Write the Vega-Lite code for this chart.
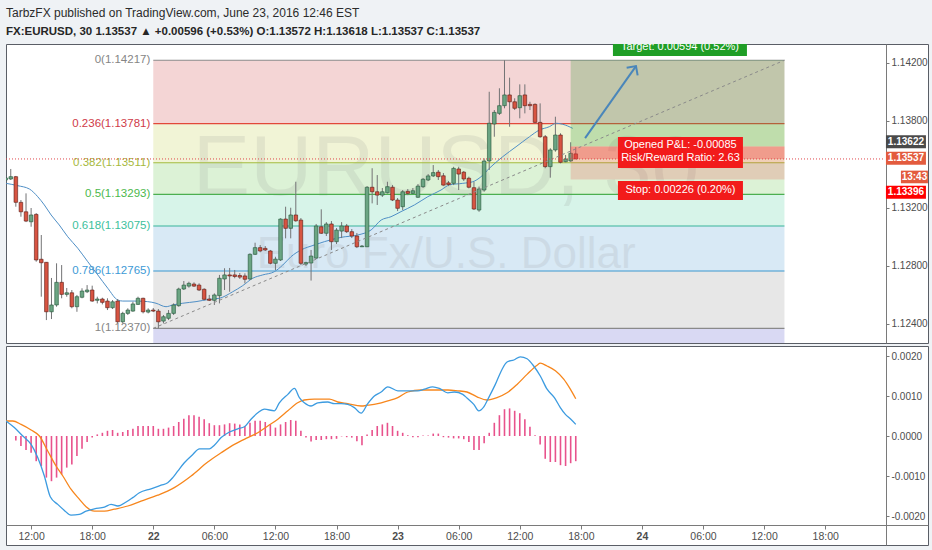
{
"$schema": "https://vega.github.io/schema/vega-lite/v6.json",
"background": "#eff2f5",
"padding": {"left": 5, "right": 5, "top": 6, "bottom": 7},
"title": {"text": "TarbzFX published on TradingView.com, June 23, 2016 12:46 EST", "subtitle": "FX:EURUSD, 30  1.13537 ▲ +0.00596 (+0.53%)  O:1.13572  H:1.13618  L:1.13537  C:1.13537", "anchor": "start", "frame": "group", "font": "Liberation Sans, Arial, sans-serif", "fontSize": 12, "fontWeight": "normal", "color": "#2b2b2b", "subtitleFont": "Liberation Sans, Arial, sans-serif", "subtitleFontSize": 11.5, "subtitleFontWeight": "bold", "subtitleColor": "#262626", "subtitlePadding": 6, "offset": 5.5},
"config": {"view": {"fill": "#ffffff", "stroke": "#5a5e66", "strokeWidth": 1}, "concat": {"spacing": 1}, "axis": {"grid": false, "title": null}, "scale": {"continuousPadding": 0}},
"datasets": {
"candles": [
{"t":"2016-06-21T09:30","o":1.13392,"h":1.13420,"l":1.13323,"c":1.13406},
{"t":"2016-06-21T10:00","o":1.13399,"h":1.13468,"l":1.13392,"c":1.13415},
{"t":"2016-06-21T10:30","o":1.13415,"h":1.13420,"l":1.13208,"c":1.13238},
{"t":"2016-06-21T11:00","o":1.13238,"h":1.13254,"l":1.13139,"c":1.13173},
{"t":"2016-06-21T11:30","o":1.13173,"h":1.13300,"l":1.13102,"c":1.13109},
{"t":"2016-06-21T12:00","o":1.13104,"h":1.13199,"l":1.13070,"c":1.13151},
{"t":"2016-06-21T12:30","o":1.13155,"h":1.13164,"l":1.12829,"c":1.12841},
{"t":"2016-06-21T13:00","o":1.12846,"h":1.13013,"l":1.12588,"c":1.12822},
{"t":"2016-06-21T13:30","o":1.12825,"h":1.12827,"l":1.12427,"c":1.12484},
{"t":"2016-06-21T14:00","o":1.12484,"h":1.12717,"l":1.12434,"c":1.12531},
{"t":"2016-06-21T14:30","o":1.12531,"h":1.12818,"l":1.12519,"c":1.12687},
{"t":"2016-06-21T15:00","o":1.12687,"h":1.12806,"l":1.12577,"c":1.12604},
{"t":"2016-06-21T15:30","o":1.12604,"h":1.12648,"l":1.12588,"c":1.12615},
{"t":"2016-06-21T16:00","o":1.12615,"h":1.12634,"l":1.12508,"c":1.12519},
{"t":"2016-06-21T16:30","o":1.12519,"h":1.12600,"l":1.12484,"c":1.12588},
{"t":"2016-06-21T17:00","o":1.12584,"h":1.12646,"l":1.12577,"c":1.12627},
{"t":"2016-06-21T17:30","o":1.12622,"h":1.12668,"l":1.12613,"c":1.12634},
{"t":"2016-06-21T18:00","o":1.12634,"h":1.12664,"l":1.12553,"c":1.12558},
{"t":"2016-06-21T18:30","o":1.12563,"h":1.12588,"l":1.12542,"c":1.12572},
{"t":"2016-06-21T19:00","o":1.12572,"h":1.12581,"l":1.12535,"c":1.12549},
{"t":"2016-06-21T19:30","o":1.12558,"h":1.12577,"l":1.12496,"c":1.12512},
{"t":"2016-06-21T20:00","o":1.12512,"h":1.12565,"l":1.12503,"c":1.12553},
{"t":"2016-06-21T20:30","o":1.12558,"h":1.12572,"l":1.12406,"c":1.12415},
{"t":"2016-06-21T21:00","o":1.12415,"h":1.12484,"l":1.12404,"c":1.12473},
{"t":"2016-06-21T21:30","o":1.12473,"h":1.12508,"l":1.12462,"c":1.12496},
{"t":"2016-06-21T22:00","o":1.12489,"h":1.12553,"l":1.12484,"c":1.12538},
{"t":"2016-06-21T22:30","o":1.12535,"h":1.12588,"l":1.12531,"c":1.12577},
{"t":"2016-06-21T23:00","o":1.12577,"h":1.12581,"l":1.12473,"c":1.12484},
{"t":"2016-06-21T23:30","o":1.12482,"h":1.12508,"l":1.12473,"c":1.12496},
{"t":"2016-06-22T00:00","o":1.12496,"h":1.12510,"l":1.12482,"c":1.12489},
{"t":"2016-06-22T00:30","o":1.12489,"h":1.12503,"l":1.12370,"c":1.12415},
{"t":"2016-06-22T01:00","o":1.12420,"h":1.12462,"l":1.12404,"c":1.12450},
{"t":"2016-06-22T01:30","o":1.12439,"h":1.12496,"l":1.12427,"c":1.12473},
{"t":"2016-06-22T02:00","o":1.12473,"h":1.12542,"l":1.12462,"c":1.12531},
{"t":"2016-06-22T02:30","o":1.12526,"h":1.12650,"l":1.12519,"c":1.12641},
{"t":"2016-06-22T03:00","o":1.12641,"h":1.12696,"l":1.12634,"c":1.12668},
{"t":"2016-06-22T03:30","o":1.12661,"h":1.12691,"l":1.12650,"c":1.12680},
{"t":"2016-06-22T04:00","o":1.12675,"h":1.12687,"l":1.12655,"c":1.12661},
{"t":"2016-06-22T04:30","o":1.12668,"h":1.12680,"l":1.12627,"c":1.12634},
{"t":"2016-06-22T05:00","o":1.12639,"h":1.12646,"l":1.12563,"c":1.12570},
{"t":"2016-06-22T05:30","o":1.12572,"h":1.12600,"l":1.12558,"c":1.12563},
{"t":"2016-06-22T06:00","o":1.12563,"h":1.12611,"l":1.12531,"c":1.12600},
{"t":"2016-06-22T06:30","o":1.12595,"h":1.12738,"l":1.12542,"c":1.12715},
{"t":"2016-06-22T07:00","o":1.12710,"h":1.12784,"l":1.12634,"c":1.12738},
{"t":"2016-06-22T07:30","o":1.12738,"h":1.12786,"l":1.12622,"c":1.12731},
{"t":"2016-06-22T08:00","o":1.12738,"h":1.12772,"l":1.12715,"c":1.12727},
{"t":"2016-06-22T08:30","o":1.12734,"h":1.12751,"l":1.12710,"c":1.12723},
{"t":"2016-06-22T09:00","o":1.12731,"h":1.12749,"l":1.12680,"c":1.12708},
{"t":"2016-06-22T09:30","o":1.12710,"h":1.12887,"l":1.12703,"c":1.12880},
{"t":"2016-06-22T10:00","o":1.12880,"h":1.12960,"l":1.12875,"c":1.12926},
{"t":"2016-06-22T10:30","o":1.12926,"h":1.12944,"l":1.12894,"c":1.12903},
{"t":"2016-06-22T11:00","o":1.12921,"h":1.12937,"l":1.12903,"c":1.12910},
{"t":"2016-06-22T11:30","o":1.12903,"h":1.12910,"l":1.12811,"c":1.12818},
{"t":"2016-06-22T12:00","o":1.12818,"h":1.12863,"l":1.12772,"c":1.12847},
{"t":"2016-06-22T12:30","o":1.12841,"h":1.13128,"l":1.12834,"c":1.13123},
{"t":"2016-06-22T13:00","o":1.13123,"h":1.13208,"l":1.12990,"c":1.13059},
{"t":"2016-06-22T13:30","o":1.13059,"h":1.13201,"l":1.12990,"c":1.13151},
{"t":"2016-06-22T14:00","o":1.13151,"h":1.13380,"l":1.13104,"c":1.13111},
{"t":"2016-06-22T14:30","o":1.13116,"h":1.13130,"l":1.12806,"c":1.12818},
{"t":"2016-06-22T15:00","o":1.12813,"h":1.12829,"l":1.12799,"c":1.12823},
{"t":"2016-06-22T15:30","o":1.12820,"h":1.12910,"l":1.12699,"c":1.12868},
{"t":"2016-06-22T16:00","o":1.12854,"h":1.13089,"l":1.12848,"c":1.13075},
{"t":"2016-06-22T16:30","o":1.13070,"h":1.13190,"l":1.13020,"c":1.13025},
{"t":"2016-06-22T17:00","o":1.13025,"h":1.13102,"l":1.13006,"c":1.13089},
{"t":"2016-06-22T17:30","o":1.13089,"h":1.13109,"l":1.12910,"c":1.12967},
{"t":"2016-06-22T18:00","o":1.12967,"h":1.13061,"l":1.12951,"c":1.13047},
{"t":"2016-06-22T18:30","o":1.13040,"h":1.13102,"l":1.12992,"c":1.13075},
{"t":"2016-06-22T19:00","o":1.13075,"h":1.13089,"l":1.13027,"c":1.13036},
{"t":"2016-06-22T19:30","o":1.13036,"h":1.13054,"l":1.12992,"c":1.13006},
{"t":"2016-06-22T20:00","o":1.13006,"h":1.13027,"l":1.12923,"c":1.12932},
{"t":"2016-06-22T20:30","o":1.12932,"h":1.12944,"l":1.12930,"c":1.12937},
{"t":"2016-06-22T21:00","o":1.12932,"h":1.13350,"l":1.12930,"c":1.13342},
{"t":"2016-06-22T21:30","o":1.13342,"h":1.13473,"l":1.13231,"c":1.13311},
{"t":"2016-06-22T22:00","o":1.13311,"h":1.13426,"l":1.13220,"c":1.13288},
{"t":"2016-06-22T22:30","o":1.13288,"h":1.13337,"l":1.13275,"c":1.13311},
{"t":"2016-06-22T23:00","o":1.13304,"h":1.13380,"l":1.13299,"c":1.13346},
{"t":"2016-06-22T23:30","o":1.13342,"h":1.13357,"l":1.13247,"c":1.13254},
{"t":"2016-06-23T00:00","o":1.13254,"h":1.13268,"l":1.13178,"c":1.13197},
{"t":"2016-06-23T00:30","o":1.13208,"h":1.13323,"l":1.13185,"c":1.13311},
{"t":"2016-06-23T01:00","o":1.13314,"h":1.13330,"l":1.13288,"c":1.13300},
{"t":"2016-06-23T01:30","o":1.13300,"h":1.13337,"l":1.13295,"c":1.13318},
{"t":"2016-06-23T02:00","o":1.13273,"h":1.13364,"l":1.13268,"c":1.13350},
{"t":"2016-06-23T02:30","o":1.13346,"h":1.13406,"l":1.13337,"c":1.13397},
{"t":"2016-06-23T03:00","o":1.13392,"h":1.13433,"l":1.13385,"c":1.13420},
{"t":"2016-06-23T03:30","o":1.13420,"h":1.13495,"l":1.13413,"c":1.13443},
{"t":"2016-06-23T04:00","o":1.13446,"h":1.13461,"l":1.13392,"c":1.13415},
{"t":"2016-06-23T04:30","o":1.13421,"h":1.13440,"l":1.13353,"c":1.13357},
{"t":"2016-06-23T05:00","o":1.13372,"h":1.13385,"l":1.13350,"c":1.13361},
{"t":"2016-06-23T05:30","o":1.13369,"h":1.13483,"l":1.13357,"c":1.13472},
{"t":"2016-06-23T06:00","o":1.13468,"h":1.13483,"l":1.13323,"c":1.13433},
{"t":"2016-06-23T06:30","o":1.13446,"h":1.13454,"l":1.13385,"c":1.13399},
{"t":"2016-06-23T07:00","o":1.13404,"h":1.13415,"l":1.13334,"c":1.13342},
{"t":"2016-06-23T07:30","o":1.13339,"h":1.13380,"l":1.13185,"c":1.13192},
{"t":"2016-06-23T08:00","o":1.13185,"h":1.13346,"l":1.13173,"c":1.13330},
{"t":"2016-06-23T08:30","o":1.13323,"h":1.13541,"l":1.13311,"c":1.13523},
{"t":"2016-06-23T09:00","o":1.13523,"h":1.14000,"l":1.13461,"c":1.13783},
{"t":"2016-06-23T09:30","o":1.13778,"h":1.13874,"l":1.13690,"c":1.13858},
{"t":"2016-06-23T10:00","o":1.13851,"h":1.14024,"l":1.13840,"c":1.13904},
{"t":"2016-06-23T10:30","o":1.13904,"h":1.14217,"l":1.13886,"c":1.13978},
{"t":"2016-06-23T11:00","o":1.13978,"h":1.14097,"l":1.13759,"c":1.13931},
{"t":"2016-06-23T11:30","o":1.13931,"h":1.13955,"l":1.13874,"c":1.13886},
{"t":"2016-06-23T12:00","o":1.13890,"h":1.14051,"l":1.13817,"c":1.13973},
{"t":"2016-06-23T12:30","o":1.13978,"h":1.14051,"l":1.13851,"c":1.13904},
{"t":"2016-06-23T13:00","o":1.13913,"h":1.13931,"l":1.13874,"c":1.13904},
{"t":"2016-06-23T13:30","o":1.13913,"h":1.13920,"l":1.13783,"c":1.13789},
{"t":"2016-06-23T14:00","o":1.13789,"h":1.13920,"l":1.13683,"c":1.13690},
{"t":"2016-06-23T14:30","o":1.13690,"h":1.13702,"l":1.13473,"c":1.13484},
{"t":"2016-06-23T15:00","o":1.13484,"h":1.13611,"l":1.13408,"c":1.13599},
{"t":"2016-06-23T15:30","o":1.13599,"h":1.13828,"l":1.13587,"c":1.13702},
{"t":"2016-06-23T16:00","o":1.13702,"h":1.13714,"l":1.13507,"c":1.13514},
{"t":"2016-06-23T16:30","o":1.13518,"h":1.13564,"l":1.13514,"c":1.13537},
{"t":"2016-06-23T17:00","o":1.13523,"h":1.13652,"l":1.13518,"c":1.13576},
{"t":"2016-06-23T17:30","o":1.13572,"h":1.13618,"l":1.13537,"c":1.13537}
],
"ma": [
{"t":"2016-06-21T09:32","p":1.13369},{"t":"2016-06-21T10:41","p":1.13353},{"t":"2016-06-21T11:50","p":1.13330},{"t":"2016-06-21T12:39","p":1.13277},{"t":"2016-06-21T13:18","p":1.13220},{"t":"2016-06-21T13:58","p":1.13151},{"t":"2016-06-21T14:46","p":1.13082},{"t":"2016-06-21T15:36","p":1.13001},{"t":"2016-06-21T16:35","p":1.12922},{"t":"2016-06-21T17:34","p":1.12829},{"t":"2016-06-21T18:33","p":1.12738},{"t":"2016-06-21T19:32","p":1.12646},{"t":"2016-06-21T20:31","p":1.12565},{"t":"2016-06-21T21:00","p":1.12558},{"t":"2016-06-21T22:08","p":1.12558},{"t":"2016-06-21T23:27","p":1.12554},{"t":"2016-06-22T00:16","p":1.12543},{"t":"2016-06-22T01:15","p":1.12519},{"t":"2016-06-22T01:55","p":1.12531},{"t":"2016-06-22T02:54","p":1.12543},{"t":"2016-06-22T04:12","p":1.12554},{"t":"2016-06-22T05:31","p":1.12570},{"t":"2016-06-22T06:29","p":1.12577},{"t":"2016-06-22T07:48","p":1.12622},{"t":"2016-06-22T08:47","p":1.12664},{"t":"2016-06-22T09:46","p":1.12715},{"t":"2016-06-22T10:45","p":1.12738},{"t":"2016-06-22T11:53","p":1.12760},{"t":"2016-06-22T12:43","p":1.12806},{"t":"2016-06-22T13:32","p":1.12864},{"t":"2016-06-22T14:31","p":1.12910},{"t":"2016-06-22T15:49","p":1.12944},{"t":"2016-06-22T16:48","p":1.12967},{"t":"2016-06-22T18:27","p":1.12997},{"t":"2016-06-22T20:05","p":1.13013},{"t":"2016-06-22T21:24","p":1.13048},{"t":"2016-06-22T22:23","p":1.13116},{"t":"2016-06-22T23:21","p":1.13139},{"t":"2016-06-23T00:20","p":1.13174},{"t":"2016-06-23T01:39","p":1.13220},{"t":"2016-06-23T02:58","p":1.13277},{"t":"2016-06-23T04:16","p":1.13323},{"t":"2016-06-23T05:05","p":1.13358},{"t":"2016-06-23T06:24","p":1.13369},{"t":"2016-06-23T07:23","p":1.13380},{"t":"2016-06-23T08:12","p":1.13415},{"t":"2016-06-23T09:01","p":1.13473},{"t":"2016-06-23T10:20","p":1.13553},{"t":"2016-06-23T11:38","p":1.13621},{"t":"2016-06-23T12:57","p":1.13690},{"t":"2016-06-23T13:55","p":1.13736},{"t":"2016-06-23T14:54","p":1.13759},{"t":"2016-06-23T15:34","p":1.13783},{"t":"2016-06-23T16:13","p":1.13776},{"t":"2016-06-23T17:12","p":1.13748}
],
"fib": [
{"ratio":"0","price":1.14217,"next":1.13781,"label":"0(1.14217)"},
{"ratio":"0.236","price":1.13781,"next":1.13511,"label":"0.236(1.13781)"},
{"ratio":"0.382","price":1.13511,"next":1.13293,"label":"0.382(1.13511)"},
{"ratio":"0.5","price":1.13293,"next":1.13075,"label":"0.5(1.13293)"},
{"ratio":"0.618","price":1.13075,"next":1.12765,"label":"0.618(1.13075)"},
{"ratio":"0.786","price":1.12765,"next":1.12370,"label":"0.786(1.12765)"},
{"ratio":"1","price":1.12370,"next":1.11229,"label":"1(1.12370)"}
],
"trend": [{"t":"2016-06-22T00:00","p":1.12370},{"t":"2016-06-24T14:00","p":1.14217}],
"position": [{"t0":"2016-06-23T17:00","t1":"2016-06-24T14:00","entry":1.13622,"target":1.14217,"stop":1.13396,"close":1.13537}],
"arrow": [{"t":"2016-06-23T18:25","p":1.13681},{"t":"2016-06-23T23:25","p":1.14177}],
"ptags": [{"label":"1.13622","p":1.13656,"kind":"entry"},{"label":"1.13537","p":1.13541,"kind":"last"},{"label":"1.13396","p":1.13307,"kind":"stop"}],
"hist": [
{"t":"2016-06-21T10:30","v":-0.00011},{"t":"2016-06-21T11:00","v":-0.00025},{"t":"2016-06-21T11:30","v":-0.00035},{"t":"2016-06-21T12:00","v":-0.00042},{"t":"2016-06-21T12:30","v":-0.00063},{"t":"2016-06-21T13:00","v":-0.00075},{"t":"2016-06-21T13:30","v":-0.00104},{"t":"2016-06-21T14:00","v":-0.00113},{"t":"2016-06-21T14:30","v":-0.00104},{"t":"2016-06-21T15:00","v":-0.00096},{"t":"2016-06-21T15:30","v":-0.00079},{"t":"2016-06-21T16:00","v":-0.00071},{"t":"2016-06-21T16:30","v":-0.0005},{"t":"2016-06-21T17:00","v":-0.00032},{"t":"2016-06-21T17:30","v":-0.00015},{"t":"2016-06-21T18:00","v":-0.00004},{"t":"2016-06-21T18:30","v":0.00004},{"t":"2016-06-21T19:00","v":0.00008},{"t":"2016-06-21T19:30","v":0.00013},{"t":"2016-06-21T20:00","v":0.00015},{"t":"2016-06-21T20:30","v":0.00008},{"t":"2016-06-21T21:00","v":0.0001},{"t":"2016-06-21T21:30","v":0.00015},{"t":"2016-06-21T22:00","v":0.00018},{"t":"2016-06-21T22:30","v":0.00025},{"t":"2016-06-21T23:00","v":0.00025},{"t":"2016-06-21T23:30","v":0.00025},{"t":"2016-06-22T00:00","v":0.00025},{"t":"2016-06-22T00:30","v":0.00018},{"t":"2016-06-22T01:00","v":0.00018},{"t":"2016-06-22T01:30","v":0.00021},{"t":"2016-06-22T02:00","v":0.00025},{"t":"2016-06-22T02:30","v":0.00035},{"t":"2016-06-22T03:00","v":0.00043},{"t":"2016-06-22T03:30","v":0.00052},{"t":"2016-06-22T04:00","v":0.00052},{"t":"2016-06-22T04:30","v":0.00048},{"t":"2016-06-22T05:00","v":0.00042},{"t":"2016-06-22T05:30","v":0.00032},{"t":"2016-06-22T06:00","v":0.00027},{"t":"2016-06-22T06:30","v":0.00027},{"t":"2016-06-22T07:00","v":0.00029},{"t":"2016-06-22T07:30","v":0.00032},{"t":"2016-06-22T08:00","v":0.00031},{"t":"2016-06-22T08:30","v":0.00029},{"t":"2016-06-22T09:00","v":0.00025},{"t":"2016-06-22T09:30","v":0.00033},{"t":"2016-06-22T10:00","v":0.00038},{"t":"2016-06-22T10:30","v":0.00038},{"t":"2016-06-22T11:00","v":0.00035},{"t":"2016-06-22T11:30","v":0.00029},{"t":"2016-06-22T12:00","v":0.00021},{"t":"2016-06-22T12:30","v":0.00029},{"t":"2016-06-22T13:00","v":0.00035},{"t":"2016-06-22T13:30","v":0.0004},{"t":"2016-06-22T14:00","v":0.00038},{"t":"2016-06-22T14:30","v":0.00013},{"t":"2016-06-22T15:00","v":-0.00004},{"t":"2016-06-22T15:30","v":-0.00014},{"t":"2016-06-22T16:00","v":-0.0001},{"t":"2016-06-22T16:30","v":-0.0001},{"t":"2016-06-22T17:00","v":-0.00008},{"t":"2016-06-22T17:30","v":-0.00008},{"t":"2016-06-22T18:00","v":-0.00007},{"t":"2016-06-22T18:30","v":-0.00001},{"t":"2016-06-22T19:00","v":-0.00003},{"t":"2016-06-22T19:30","v":-0.00004},{"t":"2016-06-22T20:00","v":-0.00013},{"t":"2016-06-22T20:30","v":-0.00023},{"t":"2016-06-22T21:00","v":0.00004},{"t":"2016-06-22T21:30","v":0.00015},{"t":"2016-06-22T22:00","v":0.00025},{"t":"2016-06-22T22:30","v":0.00029},{"t":"2016-06-22T23:00","v":0.00033},{"t":"2016-06-22T23:30","v":0.00025},{"t":"2016-06-23T00:00","v":0.00013},{"t":"2016-06-23T00:30","v":0.00008},{"t":"2016-06-23T01:00","v":0.00002},{"t":"2016-06-23T01:30","v":-0.00003},{"t":"2016-06-23T02:00","v":-0.00003},{"t":"2016-06-23T02:30","v":0.00001},{"t":"2016-06-23T03:00","v":0.00001},{"t":"2016-06-23T03:30","v":0.00006},{"t":"2016-06-23T04:00","v":0.00006},{"t":"2016-06-23T04:30","v":-0.00003},{"t":"2016-06-23T05:00","v":-0.00004},{"t":"2016-06-23T05:30","v":-0.00006},{"t":"2016-06-23T06:00","v":-0.00006},{"t":"2016-06-23T06:30","v":-0.00008},{"t":"2016-06-23T07:00","v":-0.00015},{"t":"2016-06-23T07:30","v":-0.00035},{"t":"2016-06-23T08:00","v":-0.00035},{"t":"2016-06-23T08:30","v":-0.00018},{"t":"2016-06-23T09:00","v":0.00008},{"t":"2016-06-23T09:30","v":0.00033},{"t":"2016-06-23T10:00","v":0.00052},{"t":"2016-06-23T10:30","v":0.00067},{"t":"2016-06-23T11:00","v":0.00069},{"t":"2016-06-23T11:30","v":0.00063},{"t":"2016-06-23T12:00","v":0.00057},{"t":"2016-06-23T12:30","v":0.00042},{"t":"2016-06-23T13:00","v":0.00023},{"t":"2016-06-23T13:30","v":0.00002},{"t":"2016-06-23T14:00","v":-0.00021},{"t":"2016-06-23T14:30","v":-0.00057},{"t":"2016-06-23T15:00","v":-0.00065},{"t":"2016-06-23T15:30","v":-0.00065},{"t":"2016-06-23T16:00","v":-0.00073},{"t":"2016-06-23T16:30","v":-0.00075},{"t":"2016-06-23T17:00","v":-0.00068},{"t":"2016-06-23T17:30","v":-0.00063}
],
"macd": [
{"t":"2016-06-21T09:32","v":0.000375},{"t":"2016-06-21T10:21","v":0.00021},{"t":"2016-06-21T11:11","v":0},{"t":"2016-06-21T12:00","v":-0.00021},{"t":"2016-06-21T12:39","v":-0.00054},{"t":"2016-06-21T13:18","v":-0.001},{"t":"2016-06-21T13:53","v":-0.00152},{"t":"2016-06-21T14:37","v":-0.00171},{"t":"2016-06-21T15:16","v":-0.00186},{"t":"2016-06-21T15:55","v":-0.00198},{"t":"2016-06-21T16:44","v":-0.00196},{"t":"2016-06-21T17:24","v":-0.00188},{"t":"2016-06-21T18:13","v":-0.00182},{"t":"2016-06-21T19:12","v":-0.00178},{"t":"2016-06-21T19:51","v":-0.00171},{"t":"2016-06-21T20:31","v":-0.00175},{"t":"2016-06-21T21:20","v":-0.00165},{"t":"2016-06-21T21:59","v":-0.00154},{"t":"2016-06-21T22:38","v":-0.00142},{"t":"2016-06-21T23:47","v":-0.00132},{"t":"2016-06-22T00:46","v":-0.00123},{"t":"2016-06-22T01:25","v":-0.00117},{"t":"2016-06-22T01:55","v":-0.00104},{"t":"2016-06-22T02:24","v":-0.00088},{"t":"2016-06-22T03:03","v":-0.00067},{"t":"2016-06-22T03:53","v":-0.00046},{"t":"2016-06-22T04:32","v":-0.00032},{"t":"2016-06-22T05:31","v":-0.00032},{"t":"2016-06-22T06:00","v":-0.00023},{"t":"2016-06-22T06:40","v":-0.00004},{"t":"2016-06-22T07:29","v":0.0001},{"t":"2016-06-22T08:18","v":0.00018},{"t":"2016-06-22T08:57","v":0.00023},{"t":"2016-06-22T09:36","v":0.00042},{"t":"2016-06-22T10:16","v":0.00058},{"t":"2016-06-22T10:55","v":0.00067},{"t":"2016-06-22T11:54","v":0.00063},{"t":"2016-06-22T12:23","v":0.00083},{"t":"2016-06-22T13:13","v":0.00104},{"t":"2016-06-22T13:52","v":0.00119},{"t":"2016-06-22T14:21","v":0.00096},{"t":"2016-06-22T14:50","v":0.00083},{"t":"2016-06-22T15:30","v":0.00075},{"t":"2016-06-22T16:09","v":0.00083},{"t":"2016-06-22T17:08","v":0.00085},{"t":"2016-06-22T17:47","v":0.00081},{"t":"2016-06-22T18:27","v":0.00081},{"t":"2016-06-22T19:06","v":0.00079},{"t":"2016-06-22T19:45","v":0.00071},{"t":"2016-06-22T20:25","v":0.00057},{"t":"2016-06-22T21:04","v":0.00081},{"t":"2016-06-22T21:43","v":0.001},{"t":"2016-06-22T22:23","v":0.0011},{"t":"2016-06-22T23:02","v":0.00123},{"t":"2016-06-23T00:01","v":0.00113},{"t":"2016-06-23T01:00","v":0.00113},{"t":"2016-06-23T01:59","v":0.00113},{"t":"2016-06-23T02:38","v":0.00117},{"t":"2016-06-23T03:27","v":0.00123},{"t":"2016-06-23T04:06","v":0.00119},{"t":"2016-06-23T04:56","v":0.00108},{"t":"2016-06-23T05:35","v":0.0011},{"t":"2016-06-23T06:24","v":0.00104},{"t":"2016-06-23T06:49","v":0.00095},{"t":"2016-06-23T07:29","v":0.00079},{"t":"2016-06-23T07:58","v":0.00063},{"t":"2016-06-23T08:28","v":0.00073},{"t":"2016-06-23T08:57","v":0.00096},{"t":"2016-06-23T09:36","v":0.00129},{"t":"2016-06-23T10:16","v":0.00167},{"t":"2016-06-23T10:45","v":0.00185},{"t":"2016-06-23T11:25","v":0.0019},{"t":"2016-06-23T12:03","v":0.00198},{"t":"2016-06-23T12:43","v":0.00193},{"t":"2016-06-23T13:22","v":0.00175},{"t":"2016-06-23T14:01","v":0.0015},{"t":"2016-06-23T14:41","v":0.00117},{"t":"2016-06-23T15:24","v":0.00096},{"t":"2016-06-23T15:59","v":0.00071},{"t":"2016-06-23T16:29","v":0.00054},{"t":"2016-06-23T16:58","v":0.00043},{"t":"2016-06-23T17:30","v":0.00029}
],
"signal": [
{"t":"2016-06-21T09:32","v":0.000375},{"t":"2016-06-21T10:12","v":0.000375},{"t":"2016-06-21T11:01","v":0.00029},{"t":"2016-06-21T12:00","v":0.00015},{"t":"2016-06-21T12:49","v":0},{"t":"2016-06-21T13:38","v":-0.000375},{"t":"2016-06-21T14:27","v":-0.00075},{"t":"2016-06-21T15:07","v":-0.001},{"t":"2016-06-21T15:55","v":-0.00133},{"t":"2016-06-21T16:44","v":-0.00158},{"t":"2016-06-21T17:24","v":-0.00177},{"t":"2016-06-21T18:13","v":-0.00188},{"t":"2016-06-21T19:12","v":-0.00188},{"t":"2016-06-21T20:11","v":-0.00183},{"t":"2016-06-21T21:30","v":-0.00175},{"t":"2016-06-21T22:48","v":-0.00163},{"t":"2016-06-22T00:26","v":-0.00148},{"t":"2016-06-22T02:04","v":-0.00129},{"t":"2016-06-22T03:43","v":-0.001},{"t":"2016-06-22T05:21","v":-0.00065},{"t":"2016-06-22T06:40","v":-0.00042},{"t":"2016-06-22T07:58","v":-0.00021},{"t":"2016-06-22T09:17","v":-0.00004},{"t":"2016-06-22T10:16","v":0.00008},{"t":"2016-06-22T11:15","v":0.00025},{"t":"2016-06-22T12:14","v":0.00042},{"t":"2016-06-22T13:13","v":0.00063},{"t":"2016-06-22T14:11","v":0.00083},{"t":"2016-06-22T14:50","v":0.0009},{"t":"2016-06-22T15:49","v":0.00092},{"t":"2016-06-22T17:18","v":0.00092},{"t":"2016-06-22T18:07","v":0.00085},{"t":"2016-06-22T19:06","v":0.00081},{"t":"2016-06-22T20:25","v":0.00075},{"t":"2016-06-22T21:04","v":0.00077},{"t":"2016-06-22T22:03","v":0.00081},{"t":"2016-06-22T23:02","v":0.00088},{"t":"2016-06-23T00:01","v":0.00096},{"t":"2016-06-23T01:00","v":0.0011},{"t":"2016-06-23T02:18","v":0.00115},{"t":"2016-06-23T03:37","v":0.00115},{"t":"2016-06-23T04:56","v":0.00115},{"t":"2016-06-23T05:54","v":0.00113},{"t":"2016-06-23T06:49","v":0.0011},{"t":"2016-06-23T07:48","v":0.00098},{"t":"2016-06-23T08:47","v":0.0009},{"t":"2016-06-23T09:46","v":0.00096},{"t":"2016-06-23T10:45","v":0.00108},{"t":"2016-06-23T11:44","v":0.00129},{"t":"2016-06-23T12:43","v":0.00154},{"t":"2016-06-23T13:42","v":0.00177},{"t":"2016-06-23T14:01","v":0.00182},{"t":"2016-06-23T14:41","v":0.00175},{"t":"2016-06-23T15:30","v":0.00163},{"t":"2016-06-23T16:19","v":0.00142},{"t":"2016-06-23T16:58","v":0.00117},{"t":"2016-06-23T17:30","v":0.00093}
]
},
"vconcat": [
{
"width": 922, "height": 299,
"resolve": {"scale": {"color": "independent"}},
"layer": [
{"data": {"name": "fib"}, "mark": {"type": "rect", "clip": true},
 "encoding": {
  "x": {"datum": {"year":2016,"month":6,"date":22,"hours":0}, "type": "temporal", "scale": {"domain": [{"year":2016,"month":6,"date":21,"hours":9,"minutes":32},{"year":2016,"month":6,"date":25,"hours":4,"minutes":6}], "nice": false, "padding": 0}, "axis": null},
  "x2": {"datum": {"year":2016,"month":6,"date":24,"hours":14}},
  "y": {"field": "price", "type": "quantitative", "scale": {"domain": [1.12269, 1.14329], "nice": false, "zero": false},
        "axis": {"orient": "right", "offset": -42, "values": [1.124, 1.126, 1.128, 1.13, 1.132, 1.134, 1.138, 1.14, 1.142], "format": ".5f", "labelFont": "Liberation Sans, Arial, sans-serif", "labelFontSize": 10, "labelColor": "#4d4d4d", "tickSize": 3, "tickColor": "#7a7a7a", "domainColor": "#7a7a7a", "labelPadding": 2, "title": null, "grid": false, "labelOverlap": false, "labelBound": false}},
  "y2": {"field": "next"},
  "color": {"field": "ratio", "type": "nominal", "legend": null, "scale": {"domain": ["0","0.236","0.382","0.5","0.618","0.786","1"], "range": ["#f4d5d5","#f1f4d6","#dcf2d6","#d7f4e9","#d8e9f5","#e7e7e7","#d9d9f3"]}}
 }},
{"data": {"values": [{"text": "EURUSD, 30"}]}, "mark": {"type": "text", "font": "Liberation Sans, Arial, sans-serif", "fontSize": 86, "color": "#7f7f7f", "opacity": 0.13, "align": "center", "baseline": "alphabetic", "clip": true},
 "encoding": {
  "x": {"datum": {"year":2016,"month":6,"date":23,"hours":4,"minutes":46}, "type": "temporal", "scale": {"domain": [{"year":2016,"month":6,"date":21,"hours":9,"minutes":32},{"year":2016,"month":6,"date":25,"hours":4,"minutes":6}], "nice": false, "padding": 0}, "axis": null},
  "y": {"datum": 1.13289, "type": "quantitative", "scale": {"domain": [1.12269, 1.14329], "nice": false, "zero": false}},
  "text": {"field": "text"}
 }},
{"data": {"values": [{"text": "Euro Fx/U.S. Dollar"}]}, "mark": {"type": "text", "font": "Liberation Sans, Arial, sans-serif", "fontSize": 44, "color": "#7f7f7f", "opacity": 0.13, "align": "center", "baseline": "alphabetic", "clip": true},
 "encoding": {
  "x": {"datum": {"year":2016,"month":6,"date":23,"hours":4,"minutes":46}, "type": "temporal", "scale": {"domain": [{"year":2016,"month":6,"date":21,"hours":9,"minutes":32},{"year":2016,"month":6,"date":25,"hours":4,"minutes":6}], "nice": false, "padding": 0}, "axis": null},
  "y": {"datum": 1.12786, "type": "quantitative", "scale": {"domain": [1.12269, 1.14329], "nice": false, "zero": false}},
  "text": {"field": "text"}
 }},
{"data": {"name": "fib"}, "mark": {"type": "rule", "strokeWidth": 1.2, "clip": true},
 "encoding": {
  "x": {"datum": {"year":2016,"month":6,"date":22,"hours":0}, "type": "temporal", "scale": {"domain": [{"year":2016,"month":6,"date":21,"hours":9,"minutes":32},{"year":2016,"month":6,"date":25,"hours":4,"minutes":6}], "nice": false, "padding": 0}, "axis": null},
  "x2": {"datum": {"year":2016,"month":6,"date":24,"hours":14}},
  "y": {"field": "price", "type": "quantitative", "scale": {"domain": [1.12269, 1.14329], "nice": false, "zero": false}},
  "color": {"field": "ratio", "type": "nominal", "legend": null, "scale": {"domain": ["0","0.236","0.382","0.5","0.618","0.786","1"], "range": ["#8a8a8a","#e2483a","#a3bb3c","#4caf50","#38b49c","#3a98d0","#8a8a8a"]}}
 }},
{"data": {"name": "fib"}, "mark": {"type": "text", "align": "right", "baseline": "middle", "dx": -3, "font": "Liberation Sans, Arial, sans-serif", "fontSize": 11.5, "clip": true},
 "encoding": {
  "x": {"datum": {"year":2016,"month":6,"date":22,"hours":0}, "type": "temporal", "scale": {"domain": [{"year":2016,"month":6,"date":21,"hours":9,"minutes":32},{"year":2016,"month":6,"date":25,"hours":4,"minutes":6}], "nice": false, "padding": 0}, "axis": null},
  "y": {"field": "price", "type": "quantitative", "scale": {"domain": [1.12269, 1.14329], "nice": false, "zero": false}},
  "text": {"field": "label"},
  "color": {"field": "ratio", "type": "nominal", "legend": null, "scale": {"domain": ["0","0.236","0.382","0.5","0.618","0.786","1"], "range": ["#858585","#cf3a48","#a6b93c","#4cb84c","#3cbf9c","#3d9ad6","#858585"]}}
 }},
{"data": {"name": "ma"}, "mark": {"type": "line", "color": "#4f8fc6", "strokeWidth": 1, "interpolate": "monotone", "clip": true},
 "encoding": {
  "x": {"field": "t", "type": "temporal", "scale": {"domain": [{"year":2016,"month":6,"date":21,"hours":9,"minutes":32},{"year":2016,"month":6,"date":25,"hours":4,"minutes":6}], "nice": false, "padding": 0}, "axis": null},
  "y": {"field": "p", "type": "quantitative", "scale": {"domain": [1.12269, 1.14329], "nice": false, "zero": false}}
 }},
{"data": {"name": "candles"}, "mark": {"type": "rule", "color": "#737375", "strokeWidth": 1, "clip": true},
 "encoding": {
  "x": {"field": "t", "type": "temporal", "scale": {"domain": [{"year":2016,"month":6,"date":21,"hours":9,"minutes":32},{"year":2016,"month":6,"date":25,"hours":4,"minutes":6}], "nice": false, "padding": 0}, "axis": null},
  "y": {"field": "l", "type": "quantitative", "scale": {"domain": [1.12269, 1.14329], "nice": false, "zero": false}},
  "y2": {"field": "h"}
 }},
{"data": {"name": "candles"}, "mark": {"type": "bar", "size": 3.6, "strokeWidth": 0.6, "clip": true},
 "encoding": {
  "x": {"field": "t", "type": "temporal", "scale": {"domain": [{"year":2016,"month":6,"date":21,"hours":9,"minutes":32},{"year":2016,"month":6,"date":25,"hours":4,"minutes":6}], "nice": false, "padding": 0}, "axis": null},
  "y": {"field": "o", "type": "quantitative", "scale": {"domain": [1.12269, 1.14329], "nice": false, "zero": false}},
  "y2": {"field": "c"},
  "color": {"condition": {"test": "datum.c >= datum.o", "value": "#6ba583"}, "value": "#d75442"},
  "stroke": {"condition": {"test": "datum.c >= datum.o", "value": "#225437"}, "value": "#5b1a13"}
 }},
{"data": {"name": "position"}, "mark": {"type": "rect", "color": "#3da23f", "opacity": 0.28, "clip": true},
 "encoding": {
  "x": {"field": "t0", "type": "temporal", "scale": {"domain": [{"year":2016,"month":6,"date":21,"hours":9,"minutes":32},{"year":2016,"month":6,"date":25,"hours":4,"minutes":6}], "nice": false, "padding": 0}, "axis": null},
  "x2": {"field": "t1"},
  "y": {"field": "target", "type": "quantitative", "scale": {"domain": [1.12269, 1.14329], "nice": false, "zero": false}},
  "y2": {"field": "entry"}
 }},
{"data": {"name": "position"}, "mark": {"type": "rect", "color": "#f23b3b", "opacity": 0.2, "clip": true},
 "encoding": {
  "x": {"field": "t0", "type": "temporal", "scale": {"domain": [{"year":2016,"month":6,"date":21,"hours":9,"minutes":32},{"year":2016,"month":6,"date":25,"hours":4,"minutes":6}], "nice": false, "padding": 0}, "axis": null},
  "x2": {"field": "t1"},
  "y": {"field": "entry", "type": "quantitative", "scale": {"domain": [1.12269, 1.14329], "nice": false, "zero": false}},
  "y2": {"field": "stop"}
 }},
{"data": {"name": "position"}, "mark": {"type": "rect", "color": "#f23b3b", "opacity": 0.35, "clip": true},
 "encoding": {
  "x": {"field": "t0", "type": "temporal", "scale": {"domain": [{"year":2016,"month":6,"date":21,"hours":9,"minutes":32},{"year":2016,"month":6,"date":25,"hours":4,"minutes":6}], "nice": false, "padding": 0}, "axis": null},
  "x2": {"field": "t1"},
  "y": {"field": "entry", "type": "quantitative", "scale": {"domain": [1.12269, 1.14329], "nice": false, "zero": false}},
  "y2": {"field": "close"}
 }},
{"data": {"name": "trend"}, "mark": {"type": "line", "color": "#8a8a8a", "strokeDash": [3, 3], "strokeWidth": 1, "clip": true},
 "encoding": {
  "x": {"field": "t", "type": "temporal", "scale": {"domain": [{"year":2016,"month":6,"date":21,"hours":9,"minutes":32},{"year":2016,"month":6,"date":25,"hours":4,"minutes":6}], "nice": false, "padding": 0}, "axis": null},
  "y": {"field": "p", "type": "quantitative", "scale": {"domain": [1.12269, 1.14329], "nice": false, "zero": false}}
 }},
{"data": {"values": [{"p": 1.13537}]}, "mark": {"type": "rule", "color": "#e0474c", "strokeDash": [1, 2], "strokeWidth": 1, "clip": true},
 "encoding": {
  "x": {"datum": {"year":2016,"month":6,"date":21,"hours":9,"minutes":32}, "type": "temporal", "scale": {"domain": [{"year":2016,"month":6,"date":21,"hours":9,"minutes":32},{"year":2016,"month":6,"date":25,"hours":4,"minutes":6}], "nice": false, "padding": 0}, "axis": null},
  "x2": {"datum": {"year":2016,"month":6,"date":24,"hours":23,"minutes":44}},
  "y": {"field": "p", "type": "quantitative", "scale": {"domain": [1.12269, 1.14329], "nice": false, "zero": false}}
 }},
{"data": {"name": "arrow"}, "mark": {"type": "line", "color": "#4a86ba", "strokeWidth": 2, "clip": true},
 "encoding": {
  "x": {"field": "t", "type": "temporal", "scale": {"domain": [{"year":2016,"month":6,"date":21,"hours":9,"minutes":32},{"year":2016,"month":6,"date":25,"hours":4,"minutes":6}], "nice": false, "padding": 0}, "axis": null},
  "y": {"field": "p", "type": "quantitative", "scale": {"domain": [1.12269, 1.14329], "nice": false, "zero": false}}
 }},
{"data": {"values": [{"t": "2016-06-23T23:25", "p": 1.14177}]}, "mark": {"type": "point", "shape": "M-1,1L0,0L1,1", "angle": 35, "size": 180, "filled": false, "stroke": "#4a86ba", "strokeWidth": 2, "opacity": 1, "clip": true},
 "encoding": {
  "x": {"field": "t", "type": "temporal", "scale": {"domain": [{"year":2016,"month":6,"date":21,"hours":9,"minutes":32},{"year":2016,"month":6,"date":25,"hours":4,"minutes":6}], "nice": false, "padding": 0}, "axis": null},
  "y": {"field": "p", "type": "quantitative", "scale": {"domain": [1.12269, 1.14329], "nice": false, "zero": false}}
 }},
{"data": {"values": [{"t": "2016-06-24T03:44", "p": 1.14315}]}, "mark": {"type": "point", "shape": "M-1,-0.149H1V0.149H-1Z", "size": 17956, "filled": true, "color": "#1f9e26", "opacity": 1, "clip": true},
 "encoding": {
  "x": {"field": "t", "type": "temporal", "scale": {"domain": [{"year":2016,"month":6,"date":21,"hours":9,"minutes":32},{"year":2016,"month":6,"date":25,"hours":4,"minutes":6}], "nice": false, "padding": 0}, "axis": null},
  "y": {"field": "p", "type": "quantitative", "scale": {"domain": [1.12269, 1.14329], "nice": false, "zero": false}}
 }},
{"data": {"values": [{"t": "2016-06-24T03:44", "p": 1.14308, "text": "Target: 0.00594 (0.52%)"}]}, "mark": {"type": "text", "color": "#ffffff", "font": "Liberation Sans, Arial, sans-serif", "fontSize": 11, "align": "center", "baseline": "middle", "clip": true},
 "encoding": {
  "x": {"field": "t", "type": "temporal", "scale": {"domain": [{"year":2016,"month":6,"date":21,"hours":9,"minutes":32},{"year":2016,"month":6,"date":25,"hours":4,"minutes":6}], "nice": false, "padding": 0}, "axis": null},
  "y": {"field": "p", "type": "quantitative", "scale": {"domain": [1.12269, 1.14329], "nice": false, "zero": false}},
  "text": {"field": "text"}
 }},
{"data": {"values": [{"t": "2016-06-24T03:47", "p": 1.13581}]}, "mark": {"type": "point", "shape": "M-1,-0.248H1V0.248H-1Z", "size": 15625, "filled": true, "color": "#f21b1b", "opacity": 1, "clip": true},
 "encoding": {
  "x": {"field": "t", "type": "temporal", "scale": {"domain": [{"year":2016,"month":6,"date":21,"hours":9,"minutes":32},{"year":2016,"month":6,"date":25,"hours":4,"minutes":6}], "nice": false, "padding": 0}, "axis": null},
  "y": {"field": "p", "type": "quantitative", "scale": {"domain": [1.12269, 1.14329], "nice": false, "zero": false}}
 }},
{"data": {"values": [{"t": "2016-06-24T03:47", "p": 1.13630, "text": "Opened P&L: -0.00085\nRisk/Reward Ratio: 2.63"}]}, "mark": {"type": "text", "color": "#ffffff", "font": "Liberation Sans, Arial, sans-serif", "fontSize": 11, "align": "center", "baseline": "middle", "lineBreak": "\n", "lineHeight": 13, "clip": true},
 "encoding": {
  "x": {"field": "t", "type": "temporal", "scale": {"domain": [{"year":2016,"month":6,"date":21,"hours":9,"minutes":32},{"year":2016,"month":6,"date":25,"hours":4,"minutes":6}], "nice": false, "padding": 0}, "axis": null},
  "y": {"field": "p", "type": "quantitative", "scale": {"domain": [1.12269, 1.14329], "nice": false, "zero": false}},
  "text": {"field": "text"}
 }},
{"data": {"values": [{"t": "2016-06-24T03:47", "p": 1.13320}]}, "mark": {"type": "point", "shape": "M-1,-0.152H1V0.152H-1Z", "size": 15625, "filled": true, "color": "#f21b1b", "opacity": 1, "clip": true},
 "encoding": {
  "x": {"field": "t", "type": "temporal", "scale": {"domain": [{"year":2016,"month":6,"date":21,"hours":9,"minutes":32},{"year":2016,"month":6,"date":25,"hours":4,"minutes":6}], "nice": false, "padding": 0}, "axis": null},
  "y": {"field": "p", "type": "quantitative", "scale": {"domain": [1.12269, 1.14329], "nice": false, "zero": false}}
 }},
{"data": {"values": [{"t": "2016-06-24T03:47", "p": 1.13320, "text": "Stop: 0.00226 (0.20%)"}]}, "mark": {"type": "text", "color": "#ffffff", "font": "Liberation Sans, Arial, sans-serif", "fontSize": 11, "align": "center", "baseline": "middle", "clip": true},
 "encoding": {
  "x": {"field": "t", "type": "temporal", "scale": {"domain": [{"year":2016,"month":6,"date":21,"hours":9,"minutes":32},{"year":2016,"month":6,"date":25,"hours":4,"minutes":6}], "nice": false, "padding": 0}, "axis": null},
  "y": {"field": "p", "type": "quantitative", "scale": {"domain": [1.12269, 1.14329], "nice": false, "zero": false}},
  "text": {"field": "text"}
 }},
{"data": {"name": "ptags"}, "mark": {"type": "point", "shape": "M-1,-0.325H1V0.325H-1Z", "size": 1600, "filled": true, "opacity": 1, "clip": true},
 "encoding": {
  "x": {"datum": {"year":2016,"month":6,"date":25,"hours":1,"minutes":56}, "type": "temporal", "scale": {"domain": [{"year":2016,"month":6,"date":21,"hours":9,"minutes":32},{"year":2016,"month":6,"date":25,"hours":4,"minutes":6}], "nice": false, "padding": 0}, "axis": null},
  "y": {"field": "p", "type": "quantitative", "scale": {"domain": [1.12269, 1.14329], "nice": false, "zero": false}},
  "color": {"field": "kind", "type": "nominal", "legend": null, "scale": {"domain": ["entry","last","stop"], "range": ["#4a4a4a","#e35b3e","#ff0000"]}}
 }},
{"data": {"name": "ptags"}, "mark": {"type": "text", "color": "#ffffff", "font": "Liberation Sans, Arial, sans-serif", "fontSize": 10, "fontWeight": "bold", "align": "center", "baseline": "middle", "clip": true},
 "encoding": {
  "x": {"datum": {"year":2016,"month":6,"date":25,"hours":1,"minutes":56}, "type": "temporal", "scale": {"domain": [{"year":2016,"month":6,"date":21,"hours":9,"minutes":32},{"year":2016,"month":6,"date":25,"hours":4,"minutes":6}], "nice": false, "padding": 0}, "axis": null},
  "y": {"field": "p", "type": "quantitative", "scale": {"domain": [1.12269, 1.14329], "nice": false, "zero": false}},
  "text": {"field": "label"}
 }},
{"data": {"values": [{"p": 1.13413, "label": "13:43"}]}, "mark": {"type": "point", "shape": "M-1,-0.467H1V0.467H-1Z", "size": 729, "filled": true, "color": "#e35b3e", "opacity": 1, "clip": true},
 "encoding": {
  "x": {"datum": {"year":2016,"month":6,"date":25,"hours":2,"minutes":46}, "type": "temporal", "scale": {"domain": [{"year":2016,"month":6,"date":21,"hours":9,"minutes":32},{"year":2016,"month":6,"date":25,"hours":4,"minutes":6}], "nice": false, "padding": 0}, "axis": null},
  "y": {"field": "p", "type": "quantitative", "scale": {"domain": [1.12269, 1.14329], "nice": false, "zero": false}}
 }},
{"data": {"values": [{"p": 1.13413, "label": "13:43"}]}, "mark": {"type": "text", "color": "#ffffff", "font": "Liberation Sans, Arial, sans-serif", "fontSize": 10, "fontWeight": "bold", "align": "center", "baseline": "middle", "clip": true},
 "encoding": {
  "x": {"datum": {"year":2016,"month":6,"date":25,"hours":2,"minutes":46}, "type": "temporal", "scale": {"domain": [{"year":2016,"month":6,"date":21,"hours":9,"minutes":32},{"year":2016,"month":6,"date":25,"hours":4,"minutes":6}], "nice": false, "padding": 0}, "axis": null},
  "y": {"field": "p", "type": "quantitative", "scale": {"domain": [1.12269, 1.14329], "nice": false, "zero": false}},
  "text": {"field": "label"}
 }}
]
},
{
"width": 922, "height": 199,
"layer": [
{"data": {"name": "hist"}, "mark": {"type": "bar", "size": 1.6, "color": "#e8528c", "clip": true},
 "encoding": {
  "x": {"field": "t", "type": "temporal", "scale": {"domain": [{"year":2016,"month":6,"date":21,"hours":9,"minutes":32},{"year":2016,"month":6,"date":25,"hours":4,"minutes":6}], "nice": false, "padding": 0},
        "axis": {"orient": "bottom", "offset": -20, "values": [{"year":2016,"month":6,"date":21,"hours":12},{"year":2016,"month":6,"date":21,"hours":18},{"year":2016,"month":6,"date":22,"hours":0},{"year":2016,"month":6,"date":22,"hours":6},{"year":2016,"month":6,"date":22,"hours":12},{"year":2016,"month":6,"date":22,"hours":18},{"year":2016,"month":6,"date":23,"hours":0},{"year":2016,"month":6,"date":23,"hours":6},{"year":2016,"month":6,"date":23,"hours":12},{"year":2016,"month":6,"date":23,"hours":18},{"year":2016,"month":6,"date":24,"hours":0},{"year":2016,"month":6,"date":24,"hours":6},{"year":2016,"month":6,"date":24,"hours":12},{"year":2016,"month":6,"date":24,"hours":18}],
                 "labelExpr": "hours(datum.value) == 0 ? timeFormat(datum.value, '%d') : timeFormat(datum.value, '%H:%M')",
                 "labelFontWeight": {"condition": {"test": "hours(datum.value) == 0", "value": "bold"}, "value": "normal"},
                 "labelFont": "Liberation Sans, Arial, sans-serif", "labelFontSize": 10.5, "labelColor": "#4d4d4d", "tickSize": 4, "tickColor": "#7a7a7a", "domainColor": "#7a7a7a", "labelPadding": 2, "labelFlush": false, "labelOverlap": false, "labelBound": false, "title": null, "grid": false}},
  "y": {"field": "v", "type": "quantitative", "scale": {"domain": [-0.002725, 0.00225], "nice": false, "zero": false},
        "axis": {"orient": "right", "offset": -42, "values": [-0.002, -0.001, 0, 0.001, 0.002], "labelExpr": "replace(format(datum.value, '.4f'), '\u2212', '-')", "labelFont": "Liberation Sans, Arial, sans-serif", "labelFontSize": 10, "labelColor": "#4d4d4d", "tickSize": 3, "tickColor": "#7a7a7a", "domainColor": "#7a7a7a", "labelPadding": 2, "title": null, "grid": false}},
  "y2": {"datum": 0}
 }},
{"data": {"name": "signal"}, "mark": {"type": "line", "color": "#f7861c", "strokeWidth": 1.3, "interpolate": "monotone", "clip": true},
 "encoding": {
  "x": {"field": "t", "type": "temporal", "scale": {"domain": [{"year":2016,"month":6,"date":21,"hours":9,"minutes":32},{"year":2016,"month":6,"date":25,"hours":4,"minutes":6}], "nice": false, "padding": 0}},
  "y": {"field": "v", "type": "quantitative", "scale": {"domain": [-0.002725, 0.00225], "nice": false, "zero": false}}
 }},
{"data": {"name": "macd"}, "mark": {"type": "line", "color": "#3c9be0", "strokeWidth": 1.3, "interpolate": "monotone", "clip": true},
 "encoding": {
  "x": {"field": "t", "type": "temporal", "scale": {"domain": [{"year":2016,"month":6,"date":21,"hours":9,"minutes":32},{"year":2016,"month":6,"date":25,"hours":4,"minutes":6}], "nice": false, "padding": 0}},
  "y": {"field": "v", "type": "quantitative", "scale": {"domain": [-0.002725, 0.00225], "nice": false, "zero": false}}
 }}
]
}
]
}
